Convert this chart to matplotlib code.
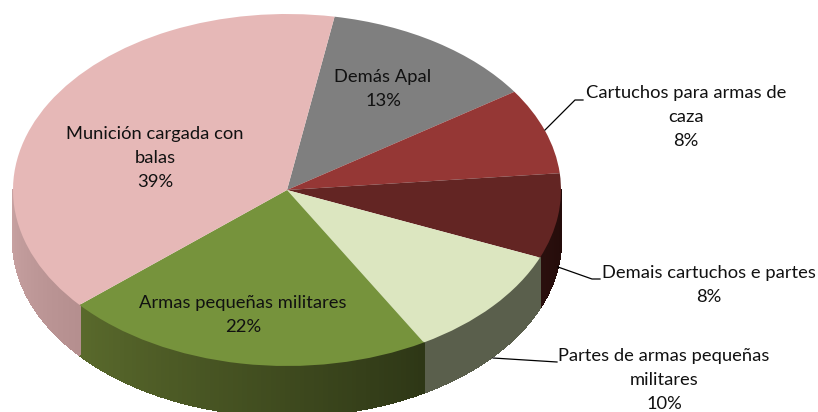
import numpy as np
import matplotlib
matplotlib.use("Agg")
import matplotlib.pyplot as plt
from matplotlib.colors import to_rgb

categories = ["Demás Apal", "Cartuchos para armas de\ncaza", "Demais cartuchos e partes",
              "Partes de armas pequeñas\nmilitares", "Armas pequeñas militares",
              "Munición cargada con\nbalas"]
values = [12.8, 7.9, 7.8, 10.4, 22.0, 39.1]
top_colors = ["#7F7F7F", "#953735", "#632523", "#DCE6C0", "#76933C", "#E6B8B7"]
side_left = ["#5A5A5A", "#5E1F1D", "#2A0F0D", "#5A5F4C", "#5A6A2C", "#C9A3A3"]
side_right = ["#5A5A5A", "#5E1F1D", "#240C0A", "#5A5F4C", "#2E3716", "#B58F8F"]

W, H = 818, 412
CX, CY, RX, RY, DEPTH = 287, 190, 274, 176, 50
START = 80

plt.rcParams["font.family"] = ["Lato", "DejaVu Sans"]
fig = plt.figure(figsize=(W / 100, H / 100), dpi=100)
ax = fig.add_axes([0, 0, 1, 1])


def px(x, y):
    return (x - CX) / RX, (CY - y) / RY


# top face
ax.pie(values, colors=top_colors, startangle=START, counterclock=False, radius=1,
       wedgeprops=dict(linewidth=0), normalize=True)
ax.set_aspect("auto")
ax.set_xlim(px(0, 0)[0], px(W, 0)[0])
ax.set_ylim(px(0, H)[1], px(0, 0)[1])
ax.axis("off")

# side wall, built from the same values
d = DEPTH / RY
hi = START
for val, cl, cr in zip(values, side_left, side_right):
    lo = hi - val / sum(values) * 360
    a0, a1 = max(lo, -180), min(hi, 0)
    if a0 < a1:
        edges = np.linspace(a0, a1, max(2, int(a1 - a0) + 1))
        cl_rgb, cr_rgb = np.array(to_rgb(cl)), np.array(to_rgb(cr))
        for e0, e1 in zip(edges[:-1], edges[1:]):
            t = ((e0 + e1) / 2 - a0) / (a1 - a0)
            col = cl_rgb * (1 - t) + cr_rgb * t
            xs = np.cos(np.radians([e0, e1, e1, e0]))
            ys = np.sin(np.radians([e0, e1, e1, e0])) - np.array([0, 0, d, d])
            ax.fill(xs, ys, facecolor=col, edgecolor=col, lw=1.0, zorder=0.5,
                    antialiased=False)
    hi = lo

# labels
label_pos = [(383, 89), (686, 117), (709, 285), (664, 380), (243, 315), (155, 158)]
for name, val, (x, y) in zip(categories, values, label_pos):
    lx, ly = px(x, y)
    ax.text(lx, ly, f"{name}\n{val:.0f}%", ha="center", va="center", fontsize=13.2,
            color="#111111", linespacing=1.58, zorder=5)

# leader lines
leaders = [[(545, 130), (575, 100), (583, 100)],
           [(558, 267), (592, 279), (600, 279)],
           [(493, 358), (557, 362)]]
for pts in leaders:
    p = np.array([px(*q) for q in pts])
    ax.plot(p[:, 0], p[:, 1], color="black", lw=0.9, zorder=4)

fig.savefig("out.png", dpi=100)
